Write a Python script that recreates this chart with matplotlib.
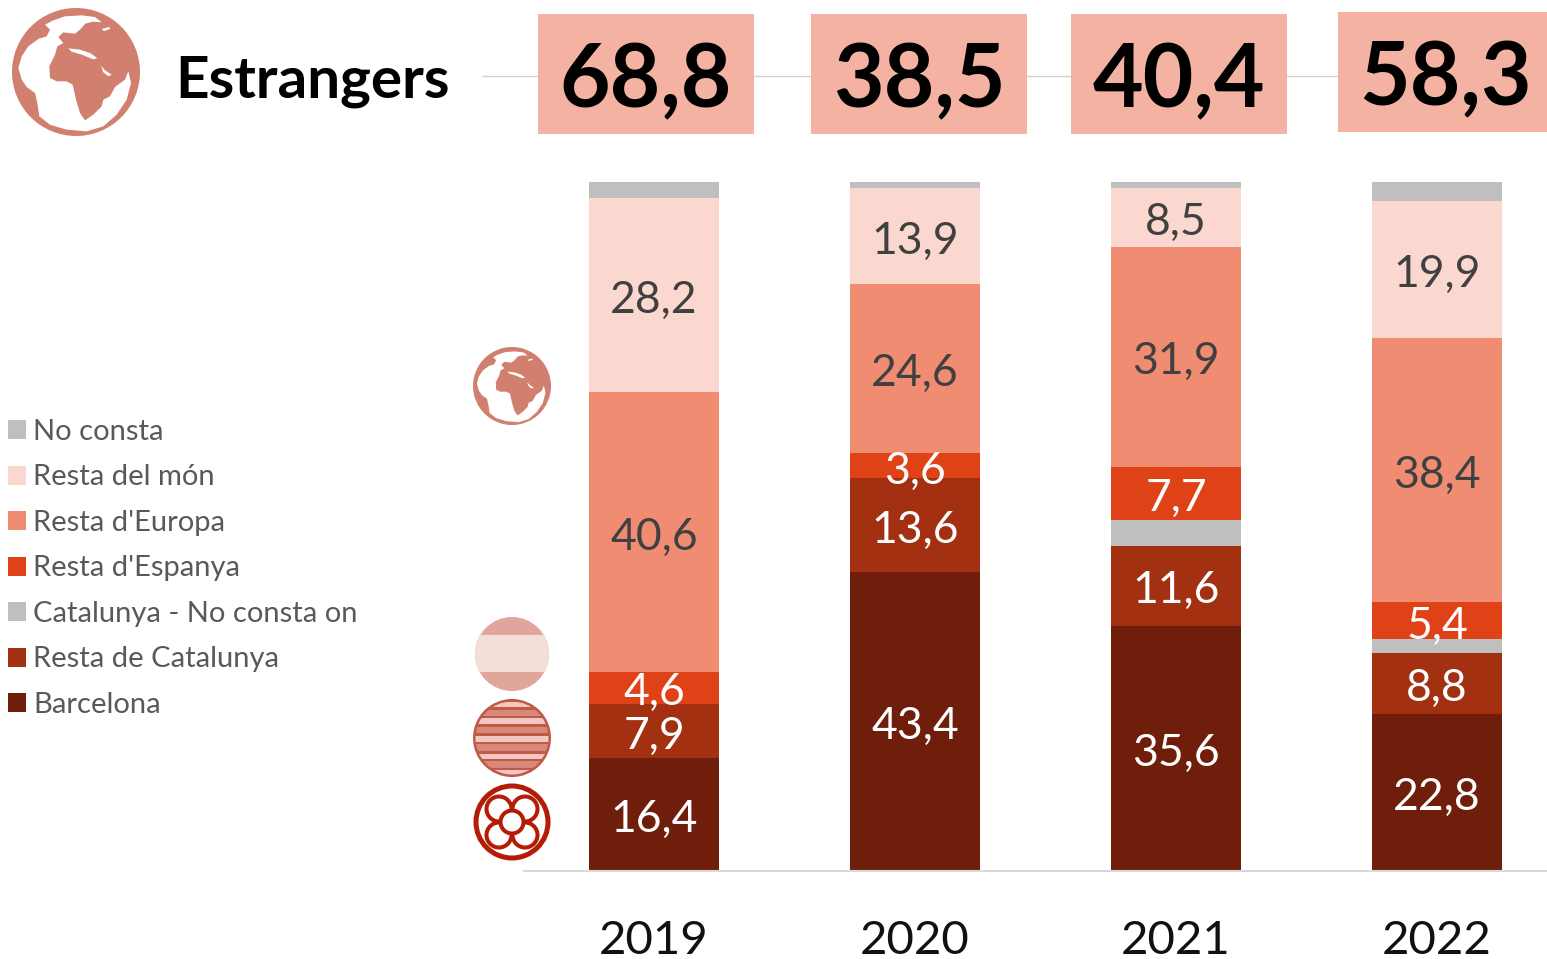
import numpy as np
import matplotlib
matplotlib.use("Agg")
import matplotlib.pyplot as plt
from matplotlib.patches import Circle, Polygon, Rectangle

plt.rcParams['font.family'] = ['Lato', 'DejaVu Sans']

years = ['2019', '2020', '2021', '2022']
totals = [68.8, 38.5, 40.4, 58.3]
barcelona = [16.4, 43.4, 35.6, 22.8]
resta_catalunya = [7.9, 13.6, 11.6, 8.8]
catalunya_nc = [0.0, 0.0, 3.8, 2.0]
resta_espanya = [4.6, 3.6, 7.7, 5.4]
resta_europa = [40.6, 24.6, 31.9, 38.4]
resta_mon = [28.2, 13.9, 8.5, 19.9]
no_consta = [2.3, 0.9, 0.9, 2.7]

series = [
    ('Barcelona', barcelona, '#6E1E0B', 'white', True),
    ('Resta de Catalunya', resta_catalunya, '#A23011', 'white', True),
    ('Catalunya - No consta on', catalunya_nc, '#BFBFBF', '#404040', False),
    ("Resta d'Espanya", resta_espanya, '#E04218', 'white', True),
    ("Resta d'Europa", resta_europa, '#F08C72', '#404040', True),
    ('Resta del món', resta_mon, '#FAD7CF', '#404040', True),
    ('No consta', no_consta, '#BFBFBF', '#404040', False),
]

W, H = 1547, 959
fig = plt.figure(figsize=(W / 100, H / 100), dpi=100, facecolor='white')


def fmt(v):
    return f'{v:.1f}'.replace('.', ',')


# Chart area
ax = fig.add_axes([523.5 / W, 1 - 871 / H, (W - 523.5) / W, 689 / H])
x = np.arange(len(years))
bottom = np.zeros(len(years))
handles = []
for name, vals, col, tcol, show in series:
    vals = np.array(vals)
    b = ax.bar(x, vals, width=0.5, bottom=bottom, color=col, label=name, linewidth=0)
    handles.append(b)
    if show:
        for xi, v, bt in zip(x, vals, bottom):
            ax.text(xi, bt + v / 2 - 0.75, fmt(v), ha='center', va='center',
                    color=tcol, fontsize=32)
    bottom += vals
ax.set_xlim(-0.5, (W - 654) / 261)
ax.set_ylim(0, 100)
ax.set_yticks([])
ax.set_xticks(x, years, fontsize=34, color='#111111')
ax.tick_params(axis='x', length=0, pad=35.5)
for s in ['top', 'left', 'right']:
    ax.spines[s].set_visible(False)
ax.spines['bottom'].set_color('#D9D9D9')
ax.spines['bottom'].set_linewidth(1.5)
ax.patch.set_alpha(0)

# Legend
leg = fig.legend(handles[::-1], [s[0] for s in series[::-1]],
                 loc='upper left', bbox_to_anchor=(8 / W, 1 - 419 / H),
                 frameon=False, fontsize=21, labelcolor='#595959',
                 borderpad=0, borderaxespad=0, handlelength=0.62, handleheight=0.62,
                 handletextpad=0.25, labelspacing=0.668)

# Decoration overlay in pixel coordinates
ov = fig.add_axes([0, 0, 1, 1], zorder=-1)
ov.set_xlim(0, W)
ov.set_ylim(H, 0)
ov.axis('off')
ov2 = fig.add_axes([0, 0, 1, 1], zorder=5)
ov2.set_xlim(0, W)
ov2.set_ylim(H, 0)
ov2.axis('off')
ov2.patch.set_alpha(0)

# Header
ov.plot([482, 1338], [76, 76], color='#D0D0D0', lw=1)
boxes = [(538, 14), (811, 14), (1071, 14), (1338, 12)]
for (bx, by), t in zip(boxes, totals):
    w = min(216, W - bx)
    ov.add_patch(Rectangle((bx, by), w, 120, color='#F4B2A3', lw=0, zorder=3))
    ov.text(bx + 108, by + 68, fmt(t), ha='center', va='center', fontsize=63,
            fontweight='bold', color='black', zorder=4)
ov.text(175, 82, 'Estrangers', ha='left', va='center', fontsize=42,
        fontweight='bold', color='black')

# Icons
OCEAN = [(135, 75), (160, 62), (195, 50), (245, 47), (285, 52), (305, 68), (278, 66),
         (256, 72), (240, 90), (225, 102), (205, 100), (190, 98), (175, 112), (190, 130),
         (172, 140), (165, 165), (148, 200), (150, 235), (170, 245), (200, 245), (218, 255),
         (228, 300), (240, 340), (255, 362), (280, 345), (305, 320), (310, 300), (330, 290),
         (345, 262), (375, 240), (385, 215), (393, 250), (380, 300), (350, 345), (310, 380),
         (260, 395), (200, 390), (150, 375), (118, 350), (112, 310), (105, 280), (80, 262),
         (65, 240), (55, 205), (65, 170), (85, 140), (115, 118), (140, 110), (150, 90)]
MED = [(205, 146), (240, 150), (270, 160), (292, 175), (280, 179), (245, 165), (215, 156)]
RED = [(303, 198), (315, 212), (335, 225), (325, 230), (310, 218)]
ARCTIC = [(305, 88), (328, 82), (330, 88), (312, 94)]


def globe(a, cx, cy, r, col='#D1806F'):
    a.add_patch(Circle((cx, cy), r, color=col, lw=0))
    for poly in (OCEAN, MED, RED, ARCTIC):
        pts = [(cx + (px - 228) / 192 * r, cy + (py - 217) / 192 * r) for px, py in poly]
        a.add_patch(Polygon(pts, closed=True, color='white', lw=0))


globe(ov2, 76, 72, 64)
globe(ov2, 512, 386, 39)

# Spain icon
ov2.add_patch(Circle((512, 654), 37, color='#E0A69B', lw=0))
band = Rectangle((470, 635), 84, 37, color='#F4DEDA', lw=0)
ov2.add_patch(band)
band.set_clip_path(Circle((512, 654), 37, transform=ov2.transData))

# Catalonia icon
cx, cy, r = 512, 738, 39
ov2.add_patch(Circle((cx, cy), r, color='#C05A48', lw=0))
stripes = [(702, 707, '#F0C8C0'), (710, 716, '#D8897C'), (718, 724, '#F0C8C0'),
           (727, 733, '#D8897C'), (736, 742, '#F0C8C0'), (744, 751, '#D8897C'),
           (754, 759, '#F0C8C0'), (761, 768, '#D8897C'), (770, 775, '#F0C8C0')]
for y0, y1, col in stripes:
    rect = Rectangle((cx - r, y0), 2 * r, y1 - y0, color=col, lw=0)
    ov2.add_patch(rect)
    rect.set_clip_path(Circle((cx, cy), r - 2.5, transform=ov2.transData))

# Barcelona icon
cx, cy = 512, 822
red = '#B51C05'
ov2.add_patch(Circle((cx, cy), 36, fc='white', ec=red, lw=3.6))
for dx, dy in [(-13, -13), (13, -13), (-13, 13), (13, 13)]:
    ov2.add_patch(Circle((cx + dx, cy + dy), 12.5, fc='white', ec=red, lw=2.9))
ov2.add_patch(Circle((cx, cy), 11.5, fc='white', ec=red, lw=2.9))

fig.savefig('out.png', dpi=100, facecolor='white')
